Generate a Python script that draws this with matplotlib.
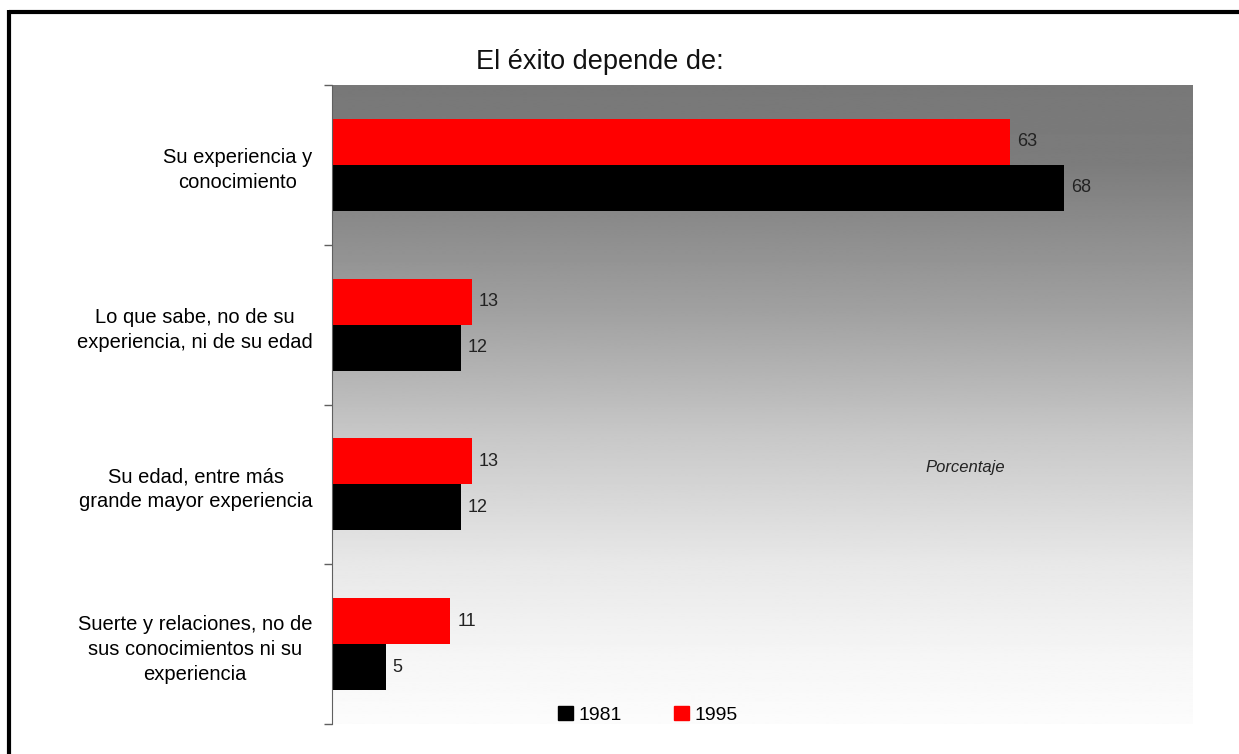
import numpy as np
import matplotlib
matplotlib.use('Agg')
import matplotlib.pyplot as plt
from matplotlib.lines import Line2D
from matplotlib.patches import Patch

plt.rcParams['font.family'] = ['Liberation Sans', 'DejaVu Sans']

categories = ['Su experiencia y\nconocimiento',
              'Lo que sabe, no de su\nexperiencia, ni de su edad',
              'Su edad, entre más\ngrande mayor experiencia',
              'Suerte y relaciones, no de\nsus conocimientos ni su\nexperiencia']
values_1981 = [68, 12, 12, 5]
values_1995 = [63, 13, 13, 11]
series_names = ['1981', '1995']

W, H = 1239, 754
fig = plt.figure(figsize=(W / 100, H / 100), dpi=100)
fig.patch.set_facecolor('white')
ax = fig.add_axes([332 / W, 1 - 724 / H, (1193 - 332) / W, (724 - 85) / H])

# background gradient: dark grey at top fading to white
rows = np.linspace(0, 1, 400)
shade = np.interp(rows, [0, 0.12, 0.35, 0.55, 0.75, 0.9, 1.0],
                  [120, 124, 160, 200, 232, 246, 252]) / 255
ax.imshow(shade[:, None], cmap='gray', vmin=0, vmax=1, aspect='auto',
          extent=(0, 80, 4, 0), origin='upper', zorder=0, interpolation='bilinear')

pos = np.arange(len(categories)) + 0.5
h = 0.2875
ax.barh(pos - h / 2, values_1995, height=h, color='#ff0000', zorder=2, label=series_names[1])
ax.barh(pos + h / 2, values_1981, height=h, color='black', zorder=2, label=series_names[0])

for y, v in zip(pos - h / 2, values_1995):
    ax.annotate(str(v), (v, y), xytext=(5, 0), textcoords='offset points',
                va='center', ha='left', fontsize=13, color='#222222')
for y, v in zip(pos + h / 2, values_1981):
    ax.annotate(str(v), (v, y), xytext=(5, 0), textcoords='offset points',
                va='center', ha='left', fontsize=13, color='#222222')

ax.set_xlim(0, 80)
ax.set_ylim(4, 0)
ax.set_xticks([])
ax.set_yticks(np.arange(5))
ax.set_yticklabels([])
ax.tick_params(axis='y', which='major', length=6, width=1, color='#606060', direction='out')
ax.set_yticks(pos, minor=True)
ax.set_yticklabels(categories, minor=True, fontsize=14.5, linespacing=1.4)
ax.tick_params(axis='y', which='minor', length=0, pad=14)
for t in ax.get_yticklabels(minor=True):
    t.set_multialignment('center')
for s in ['top', 'right', 'bottom']:
    ax.spines[s].set_visible(False)
ax.spines['left'].set_color('#606060')

ax.text(0.736, 0.402, 'Porcentaje', transform=ax.transAxes, ha='center', va='center',
        fontsize=12, style='italic', color='#222222')

fig.text(600 / W, 1 - 69 / H, 'El éxito depende de:', ha='center', va='baseline',
         fontsize=19.5, color='#111111')

handles = [Patch(color='black'), Patch(color='#ff0000')]
fig.legend(handles, series_names, loc='center', bbox_to_anchor=(648 / W, 1 - 715 / H),
           ncol=2, frameon=False, fontsize=14, handlelength=0.75, handleheight=0.75,
           handletextpad=0.3, columnspacing=2.7)

# outer frame (top and left)
fig.add_artist(Line2D([9 / W, 1], [1 - 12 / H, 1 - 12 / H], color='black', lw=3,
                      transform=fig.transFigure, solid_capstyle='butt'))
fig.add_artist(Line2D([9 / W, 9 / W], [0, 1 - 10 / H], color='black', lw=3,
                      transform=fig.transFigure, solid_capstyle='butt'))

fig.savefig('out.png', dpi=100)
